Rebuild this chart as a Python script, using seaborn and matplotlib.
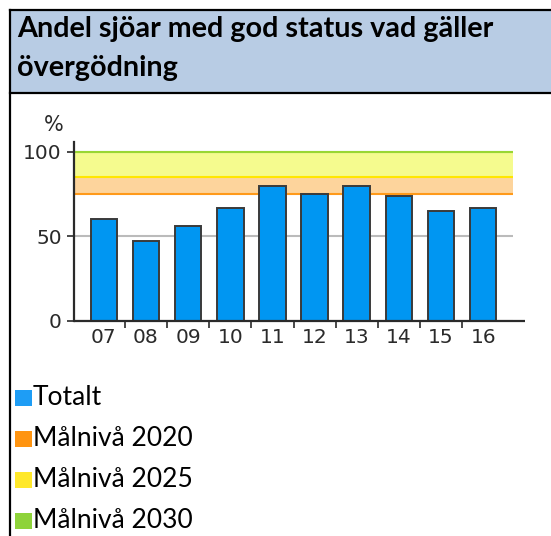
import matplotlib
matplotlib.use("Agg")
import matplotlib.pyplot as plt
from matplotlib.patches import Rectangle
from matplotlib.lines import Line2D
from matplotlib.ticker import FixedLocator
import seaborn as sns
import pandas as pd

# ---- data ----
years = ["07", "08", "09", "10", "11", "12", "13", "14", "15", "16"]
totalt = [60, 47, 56, 67, 80, 75, 80, 74, 65, 67]
goal_labels = ["Målnivå 2020", "Målnivå 2025", "Målnivå 2030"]
goal_values = [75, 85, 100]
title_lines = ["Andel sjöar med god status vad gäller", "övergödning"]
y_ticks = [0, 50, 100]

# ---- styles ----
bar_color = "#0096F2"
legend_colors = ["#1E9DF5", "#FF9410", "#FFE82A", "#8ED33A"]
line_colors = ["#FF9A1A", "#FFE600", "#99D633"]
band_colors = ["#FDD49C", "#F5FB8E"]
axis_color = "#2a2a2a"

W, H = 551, 536
fig = plt.figure(figsize=(W / 100, H / 100), dpi=100)

def fx(px):
    return px / W

def fy(py):
    return 1 - py / H

# title band
fig.patches.append(Rectangle((fx(10), fy(93)), fx(W) - fx(10), fy(10) - fy(93),
                             transform=fig.transFigure, facecolor="#B8CCE4",
                             edgecolor="none", zorder=0))
for (x0, y0, x1, y1) in [(10, 10, 551, 10), (10, 93, 551, 93), (10, 10, 10, 536)]:
    fig.lines.append(Line2D([fx(x0), fx(x1)], [fy(y0), fy(y1)],
                            transform=fig.transFigure, color="black", lw=1.6))

fig.text(fx(17), fy(37), title_lines[0], family="Lato", weight="bold",
         fontsize=20.7, va="baseline", ha="left", color="black")
fig.text(fx(17), fy(76), title_lines[1], family="Lato", weight="bold",
         fontsize=20.7, va="baseline", ha="left", color="black")

# axes
ax = fig.add_axes([fx(74.3), fy(320.7), fx(512.7) - fx(74.3), fy(141.7) - fy(320.7)])
df = pd.DataFrame({"year": years, "value": totalt})

# target bands and lines
ax.axhspan(goal_values[0], goal_values[1], color=band_colors[0], lw=0, zorder=0.5)
ax.axhspan(goal_values[1], goal_values[2], color=band_colors[1], lw=0, zorder=0.5)
for v, c in zip(goal_values, line_colors):
    ax.axhline(v, color=c, lw=1.5, zorder=0.8)

sns.barplot(data=df, x="year", y="value", color=bar_color, edgecolor="#3a3a3a",
            linewidth=1.4, width=0.63, saturation=1, ax=ax, zorder=2)

ax.set_xlim(-0.7, 9.7)
ax.set_ylim(0, 106)
ax.set_xlabel("")
ax.set_ylabel("")
ax.set_facecolor("none")
ax.yaxis.grid(True, color="#BBBBBB", lw=1.5, zorder=0.3)
ax.xaxis.grid(False)
ax.set_axisbelow(True)

for s in ["top", "right"]:
    ax.spines[s].set_visible(False)
ax.spines["bottom"].set_visible(False)
ax.spines["left"].set_color(axis_color)
ax.spines["left"].set_linewidth(1.6)
ax.plot([-0.7, 9.99], [0, 0], color=axis_color, lw=1.6, clip_on=False, zorder=5,
        solid_capstyle="butt")

ax.set_yticks(y_ticks)
ax.set_yticklabels([str(t) for t in y_ticks])
ax.tick_params(axis="y", length=5, width=1.2, color=axis_color, pad=4,
               labelsize=14.5, labelcolor=axis_color)
ax.set_xticks(range(len(years)))
ax.set_xticklabels(years)
ax.tick_params(axis="x", which="major", length=0, pad=5, labelsize=14.5,
               labelcolor=axis_color)
ax.xaxis.set_minor_locator(FixedLocator([i + 0.5 for i in range(len(years) - 1)]))
ax.tick_params(axis="x", which="minor", length=5, width=1.2, color=axis_color,
               direction="out")

fig.text(fx(54), fy(125), "%", ha="center", va="center", fontsize=15,
         color=axis_color)

# legend
legend_labels = ["Totalt"] + goal_labels
baselines = [405, 446, 487, 528]
for lab, col, b in zip(legend_labels, legend_colors, baselines):
    fig.patches.append(Rectangle((fx(15), fy(b + 1)), fx(17), fy(0) - fy(16),
                                 transform=fig.transFigure, facecolor=col,
                                 edgecolor="none"))
    fig.text(fx(33), fy(b), lab, family="Lato", fontsize=19, va="baseline",
             ha="left", color="black")

fig.savefig("out.png", dpi=100, facecolor="white")
